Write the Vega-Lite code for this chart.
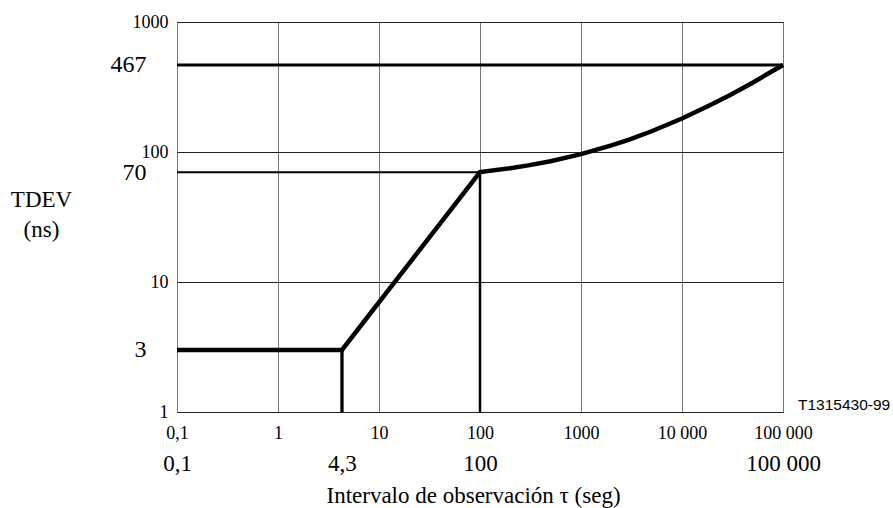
{
  "$schema": "https://vega.github.io/schema/vega-lite/v6.json",
  "width": 606,
  "height": 390,
  "autosize": {"type": "none"},
  "padding": {"left": 177, "top": 22, "right": 110, "bottom": 96},
  "background": "white",
  "config": {
    "font": "Liberation Serif",
    "axis": {"labelFont": "Liberation Serif", "titleFont": "Liberation Serif", "titleFontWeight": "normal"},
    "view": {"stroke": "#555", "strokeWidth": 1}
  },
  "resolve": {"axis": {"x": "independent", "y": "independent"}},
  "layer": [
    {
      "description": "TDEV mask curve: flat, slope 1, then rising to the upper limit",
      "data": {
        "values": [
          {"tau": 0.1, "tdev": 3},
          {"tau": 4.3, "tdev": 3},
          {"tau": 100, "tdev": 70},
          {"tau": 200, "tdev": 75.0},
          {"tau": 300, "tdev": 78.9},
          {"tau": 500, "tdev": 85.0},
          {"tau": 1000, "tdev": 96.2},
          {"tau": 2000, "tdev": 112.3},
          {"tau": 3000, "tdev": 124.6},
          {"tau": 5000, "tdev": 144.4},
          {"tau": 10000, "tdev": 181.0},
          {"tau": 20000, "tdev": 233.7},
          {"tau": 30000, "tdev": 274.9},
          {"tau": 50000, "tdev": 341.3},
          {"tau": 100000, "tdev": 467}
        ]
      },
      "mark": {"type": "line", "color": "black", "strokeWidth": 4.5, "strokeJoin": "miter"},
      "encoding": {
        "x": {
          "field": "tau",
          "type": "quantitative",
          "scale": {"type": "log", "domain": [0.1, 100000], "nice": false},
          "axis": {
            "orient": "bottom",
            "values": [0.1, 1, 10, 100, 1000, 10000, 100000],
            "labelExpr": "datum.value == 1000 ? '1000' : replace(replace(format(datum.value, ','), ',', ' '), '.', ',')",
            "grid": true,
            "gridColor": "#777",
            "gridOpacity": 1,
            "gridWidth": 1,
            "domain": false,
            "ticks": false,
            "tickSize": 0,
            "labelFont": "Liberation Serif",
            "labelFontSize": 18,
            "labelColor": "black",
            "labelBaseline": "middle",
            "labelPadding": 21,
            "labelFlush": false,
            "labelOverlap": false,
            "title": "Intervalo de observación τ (seg)",
            "titleFont": "Liberation Serif",
            "titleFontSize": 23,
            "titleFontWeight": "normal",
            "titleColor": "black",
            "titleX": 296,
            "titleY": 90,
            "titleAlign": "center",
            "titleBaseline": "alphabetic"
          }
        },
        "y": {
          "field": "tdev",
          "type": "quantitative",
          "scale": {"type": "log", "domain": [1, 1000], "nice": false},
          "axis": {
            "orient": "left",
            "values": [1, 10, 100, 1000],
            "format": "d",
            "grid": true,
            "gridColor": "#222",
            "gridOpacity": 1,
            "gridWidth": 1,
            "domain": false,
            "ticks": false,
            "tickSize": 0,
            "labelFont": "Liberation Serif",
            "labelFontSize": 18,
            "labelColor": "black",
            "labelAlign": "right",
            "labelBaseline": "middle",
            "labelPadding": 9,
            "labelFlush": false,
            "labelOverlap": false,
            "title": ["TDEV", "(ns)"],
            "titleFont": "Liberation Serif",
            "titleFontSize": 23,
            "titleFontWeight": "normal",
            "titleColor": "black",
            "titleAngle": 0,
            "titleX": -136,
            "titleY": 184,
            "titleAlign": "center",
            "titleBaseline": "alphabetic",
            "titleLineHeight": 30
          }
        }
      }
    },
    {
      "description": "Upper limit, 467 ns across the whole range",
      "data": {"values": [{"tau": 0.1, "tau2": 100000, "tdev": 467}]},
      "mark": {"type": "rule", "color": "black", "strokeWidth": 3},
      "encoding": {
        "x": {"field": "tau", "type": "quantitative", "axis": null},
        "x2": {"field": "tau2"},
        "y": {"field": "tdev", "type": "quantitative", "axis": null}
      }
    },
    {
      "description": "70 ns reference line up to tau = 100 s",
      "data": {"values": [{"tau": 0.1, "tau2": 100, "tdev": 70}]},
      "mark": {"type": "rule", "color": "black", "strokeWidth": 2},
      "encoding": {
        "x": {"field": "tau", "type": "quantitative", "axis": null},
        "x2": {"field": "tau2"},
        "y": {"field": "tdev", "type": "quantitative", "axis": null}
      }
    },
    {
      "description": "Drop line at the 4.3 s corner",
      "data": {"values": [{"tau": 4.3, "tdev": 1, "tdev2": 3}]},
      "mark": {"type": "rule", "color": "black", "strokeWidth": 3.3},
      "encoding": {
        "x": {"field": "tau", "type": "quantitative", "axis": null},
        "y": {"field": "tdev", "type": "quantitative", "axis": null},
        "y2": {"field": "tdev2"}
      }
    },
    {
      "description": "Drop line at the 100 s corner; carries the breakpoint axes",
      "data": {"values": [{"tau": 100, "tdev": 1, "tdev2": 70}]},
      "mark": {"type": "rule", "color": "black", "strokeWidth": 2.5},
      "encoding": {
        "x": {
          "field": "tau",
          "type": "quantitative",
          "axis": {
            "orient": "bottom",
            "values": [0.1, 4.3, 100, 100000],
            "labelExpr": "replace(replace(format(datum.value, ','), ',', ' '), '.', ',')",
            "grid": false,
            "domain": false,
            "ticks": false,
            "tickSize": 0,
            "labelFont": "Liberation Serif",
            "labelFontSize": 23,
            "labelColor": "black",
            "labelBaseline": "middle",
            "labelPadding": 51,
            "labelFlush": false,
            "labelOverlap": false,
            "title": null
          }
        },
        "y": {
          "field": "tdev",
          "type": "quantitative",
          "axis": {
            "orient": "left",
            "values": [3, 70, 467],
            "format": "d",
            "grid": false,
            "domain": false,
            "ticks": false,
            "tickSize": 0,
            "labelFont": "Liberation Serif",
            "labelFontSize": 24,
            "labelColor": "black",
            "labelAlign": "right",
            "labelBaseline": "middle",
            "labelPadding": 31,
            "labelFlush": false,
            "labelOverlap": false,
            "title": null
          }
        },
        "y2": {"field": "tdev2"}
      }
    },
    {
      "description": "Figure reference code",
      "data": {"values": [{"tau": 100000, "tdev": 1, "code": "T1315430-99"}]},
      "mark": {"type": "text", "font": "Liberation Sans", "fontSize": 15.5, "align": "left", "baseline": "middle", "dx": 15, "dy": -7, "color": "black"},
      "encoding": {
        "x": {"field": "tau", "type": "quantitative", "axis": null},
        "y": {"field": "tdev", "type": "quantitative", "axis": null},
        "text": {"field": "code"}
      }
    }
  ]
}
